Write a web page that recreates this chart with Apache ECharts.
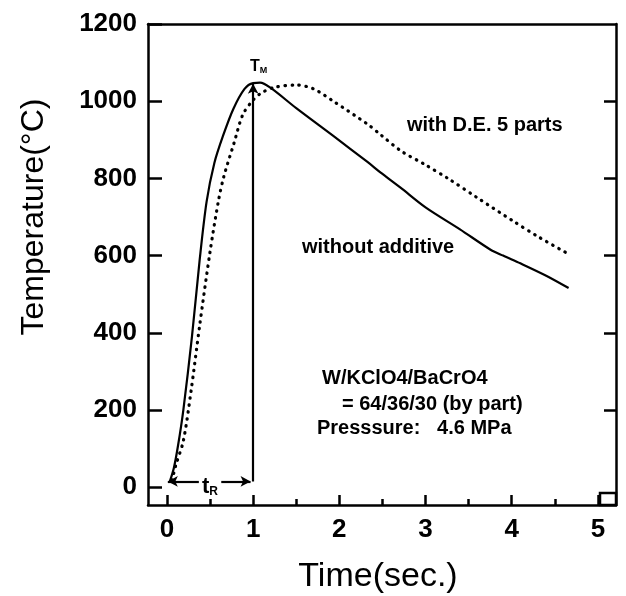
<!DOCTYPE html>
<html>
<head>
<meta charset="utf-8">
<script src="https://cdn.jsdelivr.net/npm/echarts@6/dist/echarts.min.js"></script>
<style>
  html, body { margin: 0; padding: 0; background: #fff; }
  #main { width: 626px; height: 596px; }
</style>
</head>
<body>
<div id="main"></div>
<script>
// 读图得到的数据
var timeSolid = [0.03, 0.08, 0.13, 0.19, 0.29, 0.38, 0.46, 0.55, 0.65, 0.77, 0.9, 1.0, 1.08, 1.2, 1.5, 1.93, 2.33, 2.48, 2.71, 3.0, 3.4, 3.75, 3.9, 4.1, 4.4, 4.66];
var tempSolid = [13, 50, 110, 200, 390, 590, 740, 840, 910, 980, 1032, 1047, 1048, 1035, 982, 910, 842, 815, 776, 725, 668, 616, 600, 580, 548, 516];

var timeDotted = [0.06, 0.1, 0.19, 0.28, 0.38, 0.5, 0.6, 0.66, 0.78, 0.88, 1.0, 1.1, 1.25, 1.5, 1.7, 1.93, 2.33, 2.48, 2.71, 3.0, 3.26, 3.6, 4.02, 4.3, 4.66];
var tempDotted = [18, 55, 120, 250, 420, 610, 745, 805, 893, 965, 1003, 1022, 1036, 1042, 1032, 1000, 940, 913, 872, 835, 800, 750, 689, 650, 604];

var xTicks = [0, 1, 2, 3, 4, 5];
var xMinorTicks = [0.5, 1.5, 2.5, 3.5, 4.5];
var yTicks = [0, 200, 400, 600, 800, 1000, 1200];
var yRightTicks = [200, 400, 600, 800, 1000];

// t_R 与 T_M 标注
var tmTime = 1.0, tmTemp = 1045, baseTemp = 15;

function pairs(xs, ys) {
    var out = [];
    for (var i = 0; i < xs.length; i++) out.push([xs[i], ys[i]]);
    return out;
}

var FONT = 'Liberation Sans, Arial, sans-serif';
var AX = { color: '#000', width: 2.5 };
var myChart = echarts.init(document.getElementById('main'));

var option = {
    animation: false,
    backgroundColor: '#fff',
    grid: { left: 148, right: 10, top: 24, bottom: 91 },
    xAxis: [
        {
            type: 'value', min: -0.22, max: 5.21, position: 'bottom',
            axisLine: { onZero: false, lineStyle: AX },
            axisTick: { inside: true, length: 10, customValues: xTicks, lineStyle: AX },
            axisLabel: { customValues: xTicks, fontSize: 26, fontWeight: 'bold', color: '#000', fontFamily: FONT, margin: 12,
                         formatter: function (v) { return String(v); } },
            splitLine: { show: false }
        },
        {
            // 半秒的小刻度
            type: 'value', min: -0.22, max: 5.21, position: 'bottom', offset: 0,
            axisLine: { show: false, onZero: false },
            axisTick: { inside: true, length: 6, customValues: xMinorTicks, lineStyle: AX },
            axisLabel: { show: false },
            splitLine: { show: false }
        },
        {
            type: 'value', min: -0.22, max: 5.21, position: 'top',
            axisLine: { onZero: false, lineStyle: AX },
            axisTick: { show: false }, axisLabel: { show: false }, splitLine: { show: false }
        }
    ],
    yAxis: [
        {
            type: 'value', min: -46, max: 1200, position: 'left',
            axisLine: { show: true, onZero: false, lineStyle: AX },
            axisTick: { show: true, inside: true, length: 14, customValues: yTicks, lineStyle: AX },
            axisLabel: { customValues: yTicks, fontSize: 26, fontWeight: 'bold', color: '#000', fontFamily: FONT, margin: 11,
                         formatter: function (v) { return String(v); } },
            splitLine: { show: false }
        },
        {
            type: 'value', min: -46, max: 1200, position: 'right',
            axisLine: { show: true, onZero: false, lineStyle: AX },
            axisTick: { show: true, inside: true, length: 12, customValues: yRightTicks, lineStyle: AX },
            axisLabel: { show: false },
            splitLine: { show: false }
        }
    ],
    series: [
        {
            name: 'without additive', type: 'line', smooth: 0.3, showSymbol: false,
            data: pairs(timeSolid, tempSolid),
            lineStyle: { color: '#000', width: 2.2 },
            markLine: {
                silent: true,
                label: { show: false },
                lineStyle: { color: '#000', width: 2.2, type: 'solid' },
                data: [
                    [{ coord: [tmTime, baseTemp], symbol: 'none' }, { coord: [tmTime, tmTemp], symbol: 'arrow', symbolSize: [8, 10] }],
                    [{ coord: [0.01, baseTemp], symbol: 'arrow', symbolSize: [8, 10] }, { coord: [0.37, baseTemp], symbol: 'none' }],
                    [{ coord: [0.63, baseTemp], symbol: 'none' }, { coord: [0.97, baseTemp], symbol: 'arrow', symbolSize: [8, 10] }]
                ]
            }
        },
        {
            name: 'with D.E. 5 parts', type: 'line', smooth: 0.3, showSymbol: false,
            data: pairs(timeDotted, tempDotted),
            lineStyle: { color: '#000', width: 3.2, type: [0.5, 6.5], cap: 'round' }
        }
    ],
    graphic: [
        { type: 'text', x: 34, y: 217, rotation: Math.PI / 2,
          style: { text: 'Temperature(°C)', font: '32px ' + FONT, fill: '#000', textAlign: 'center', textVerticalAlign: 'middle' } },
        { type: 'text', x: 378, y: 577,
          style: { text: 'Time(sec.)', font: '34px ' + FONT, fill: '#000', textAlign: 'center', textVerticalAlign: 'middle' } },
        { type: 'text', x: 407, y: 125,
          style: { text: 'with D.E. 5 parts', font: 'bold 20px ' + FONT, fill: '#000', textVerticalAlign: 'middle' } },
        { type: 'text', x: 302, y: 247,
          style: { text: 'without additive', font: 'bold 20px ' + FONT, fill: '#000', textVerticalAlign: 'middle' } },
        { type: 'text', x: 322, y: 378,
          style: { text: 'W/KClO4/BaCrO4', font: 'bold 20px ' + FONT, fill: '#000', textVerticalAlign: 'middle' } },
        { type: 'text', x: 342, y: 404,
          style: { text: '= 64/36/30 (by part)', font: 'bold 20px ' + FONT, fill: '#000', textVerticalAlign: 'middle' } },
        { type: 'text', x: 317, y: 428,
          style: { text: 'Presssure:   4.6 MPa', font: 'bold 20px ' + FONT, fill: '#000', textVerticalAlign: 'middle' } },
        { type: 'text', x: 250, y: 67,
          style: {
              text: '{a|T}{b|M}', fill: '#000', textVerticalAlign: 'middle',
              rich: { a: { fontSize: 16, fontWeight: 'bold', fontFamily: FONT }, b: { fontSize: 9, fontWeight: 'bold', fontFamily: FONT, verticalAlign: 'bottom' } }
          } },
        { type: 'text', x: 202, y: 487,
          style: {
              text: '{a|t}{b|R}', fill: '#000', textVerticalAlign: 'middle',
              rich: { a: { fontSize: 22, fontWeight: 'bold', fontFamily: FONT }, b: { fontSize: 12, fontWeight: 'bold', fontFamily: FONT, verticalAlign: 'bottom' } }
          } },
        // 右下角小方框
        { type: 'rect', shape: { x: 600, y: 493, width: 16, height: 12 },
          style: { fill: 'none', stroke: '#000', lineWidth: 2.5 } }
    ]
};

myChart.setOption(option);
</script>
</body>
</html>
